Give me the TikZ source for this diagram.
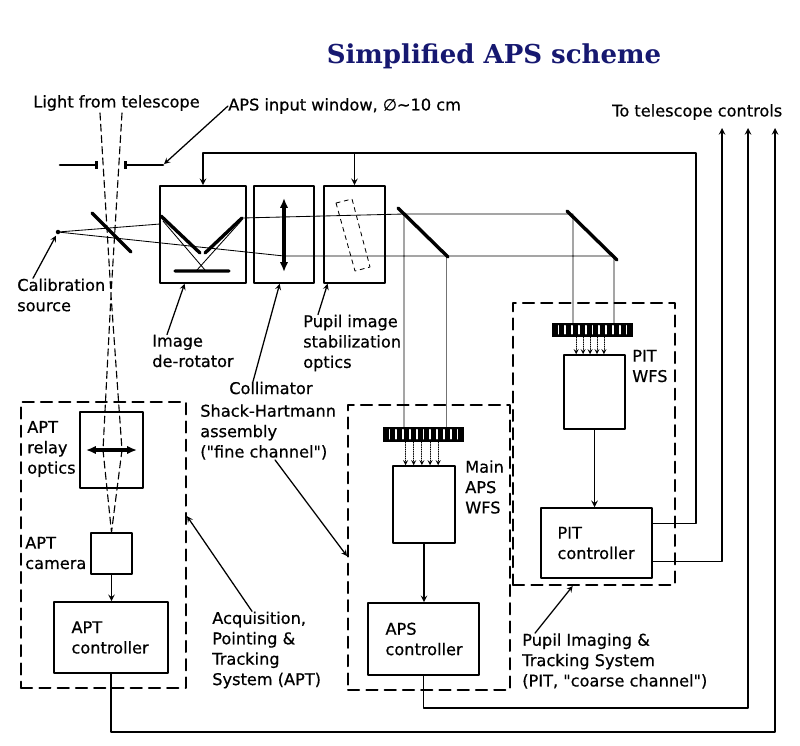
\documentclass[tikz,border=0pt]{standalone}
\usepackage{fontspec}
\setmainfont{DejaVu Sans}[FakeBold=0.6]
\newfontfamily\titlefont{DejaVu Serif}
\usetikzlibrary{arrows.meta,calc}
\definecolor{titleblue}{RGB}{22,24,112}
\begin{document}
\begin{tikzpicture}[x=0.025cm, y=-0.025cm, line cap=round, line join=round, font=\fontsize{11.5}{14.5}\selectfont, >=stealth]
	\tikzset{lbl/.style={anchor=west, align=left, inner sep=0pt},
		box/.style args={#1 by #2}{draw, line width=1.1pt, inner sep=0pt, minimum width=#1cm, minimum height=#2cm},
		grp/.style args={#1 by #2}{draw, line width=1.4pt, dash pattern=on 8pt off 5pt, inner sep=0pt, minimum width=#1cm, minimum height=#2cm},
		lenslet/.style args={#1 by #2}{fill=black, inner sep=0pt, minimum width=#1cm, minimum height=#2cm},
		mirror/.style={line width=2.4pt},
		ray/.style={line width=0.6pt},
		beam/.style={line width=0.8pt, dash pattern=on 5pt off 3pt},
		spot/.style={->, densely dotted, line width=0.6pt},
		ctl/.style={->, line width=1.1pt},
		ptr/.style={->, line width=0.9pt},
		lens/.style={{Latex[length=7pt,width=6pt]}-{Latex[length=7pt,width=6pt]}, line width=2.2pt}}
	\useasboundingbox (0,0) rectangle (800,745);
	% title and headings
	\node[font=\fontsize{18.5}{22}\titlefont\bfseries, text=titleblue] (title) at (494,56) {Simplified APS scheme};
	\node[lbl] (light) at (33,103) {Light from telescope};
	\node[lbl] (window) at (228,106) {APS input window, ∅\textasciitilde10 cm};
	\node[lbl] (tocontrols) at (612,112) {To telescope controls};
	% optics and detectors
	\node[box=2.15 by 2.425] (derot) at (203,234.5) {};
	\node[box=1.5 by 2.425] (collim) at (284,234.5) {};
	\node[box=1.525 by 2.425] (pupil) at (354.5,234.5) {};
	\node[box=1.575 by 1.9] (relay) at (111.5,450) {};
	\node[box=1.025 by 1.025] (cam) at (111.5,553.5) {};
	\node[box=1.55 by 1.925] (mwfs) at (424,504.5) {};
	\node[box=1.525 by 1.85] (pwfs) at (594.5,392) {};
	\node[lenslet=2.025 by 0.375] (mlens) at (423.5,434.5) {};
	\node[lenslet=2.025 by 0.35] (plens) at (592.5,330) {};
	\node[box=2.85 by 1.775] (aptctl) at (111,637.5) {};
	\node[box=2.775 by 1.8] (apsctl) at (423.5,639) {};
	\node[box=2.775 by 1.75] (pitctl) at (596.5,543) {};
	% subsystem frames
	\node[grp=4.125 by 7.15] (aptframe) at (103.5,545) {};
	\node[grp=4.05 by 7.125] (apsframe) at (429,547.5) {};
	\node[grp=4.05 by 7.05] (pitframe) at (594,444) {};
	% labels
	\node[lbl] (calib) at (17,295) {Calibration\\source};
	\node[lbl] (derotlbl) at (152,351) {Image\\de-rotator};
	\node[lbl] (collimlbl) at (229,388) {Collimator};
	\node[lbl] (pupillbl) at (303,343) {Pupil image\\stabilization\\optics};
	\node[lbl] (shack) at (200,432) {Shack-Hartmann\\assembly\\(\textquotedbl fine channel\textquotedbl)};
	\node[lbl] (relaylbl) at (27,449) {APT\\relay\\optics};
	\node[lbl] (camlbl) at (25,553) {APT\\camera};
	\node[lbl] (aptctllbl) at ([xshift=0.45cm]aptctl.west) {APT\\controller};
	\node[lbl] (apsctllbl) at ([xshift=0.45cm]apsctl.west) {APS\\controller};
	\node[lbl] (pitctllbl) at ([xshift=0.425cm]pitctl.west) {PIT\\controller};
	\node[lbl] (mwfslbl) at (465,487) {Main\\APS\\WFS};
	\node[lbl] (pwfslbl) at (632,366) {PIT\\WFS};
	\node[lbl] (aptsys) at (212,650) {Acquisition,\\Pointing \&\\Tracking\\System (APT)};
	\node[lbl] (pitsys) at (522,661) {Pupil Imaging \&\\Tracking System\\(PIT, \textquotedbl coarse channel\textquotedbl)};
	\path (58,232) coordinate (src)
	(60,165) coordinate (winL1) (98,165) coordinate (winL2)
	(124,165) coordinate (winR1) (163,165) coordinate (winR2)
	(92,213) coordinate (bs1) (131,252) coordinate (bs2)
	(398,208) coordinate (fm1a) (448,257) coordinate (fm1b)
	(567,211) coordinate (fm2a) (617,260) coordinate (fm2b)
	(404,214) coordinate (up1) (573,214) coordinate (up2)
	(446,256) coordinate (lo1) (614,256) coordinate (lo2)
	(111,295) coordinate (focus)
	(696,153) coordinate (ctlturn)
	(722,128) coordinate (tel1) (748,128) coordinate (tel2) (775,128) coordinate (tel3);
	% light paths
	\draw[beam] (100,113) -- (focus) -- (103,450) -- (cam.north)
	(122,113) -- (focus) -- (122,450) -- (cam.north);
	\draw[line width=1.8pt, -{Bar[width=5pt]}] (winL1) -- (winL2);
	\draw[line width=1.8pt, {Bar[width=5pt]}-] (winR1) -- (winR2);
	\draw[ray] (src) -- (160,224) (242,218) -- (up1) -- (up2)
	(src) -- (284,256) -- (lo1) -- (lo2)
	(163,221) -- (205,270) (241,221) -- (197,270)
	(up1) -- (up1 |- mlens.north) (up2) -- (up2 |- plens.north) (lo2) -- (lo2 |- plens.north);
	\draw[ray, black!55] (lo1) -- (lo1 |- mlens.north);
	\fill (src) circle (1.6pt);
	\draw[mirror] (bs1) -- (bs2) (fm1a) -- (fm1b) (fm2a) -- (fm2b)
	(161,216) -- (200,253) (205,253) -- (242,218) (175,271) -- (229,271);
	\draw[lens] (284,198) -- (284,272);
	\draw[lens] (86,450) -- (137,450);
	\draw[ray, dashed] (336,203) -- (352,199) -- (370,267) -- (355,271) -- cycle;
	\foreach \i in {1,...,11} {
		\draw[white, line width=1.3pt] ($(mlens.north west)!\i/12!(mlens.north east)+(0,3)$) -- ++(0,9);
		\draw[white, line width=1.3pt] ($(plens.north west)!\i/12!(plens.north east)+(0,3)$) -- ++(0,8);
	}
	\foreach \f in {0.28,0.38,0.48,0.58,0.68} \draw[spot] ($(mlens.south west)!\f!(mlens.south east)$) coordinate (s) -- (s |- mwfs.north);
	\foreach \f in {0.30,0.385,0.47,0.555,0.64} \draw[spot] ($(plens.south west)!\f!(plens.south east)$) coordinate (s) -- (s |- pwfs.north);
	% signals
	\draw[ctl] (cam.south) -- (cam.south |- aptctl.north);
	\draw[ctl] (mwfs.south) -- (mwfs.south |- apsctl.north);
	\draw[ctl] (pwfs.south) -- (pwfs.south |- pitctl.north);
	\draw[ctl] ($(pitctl.north east)!0.23!(pitctl.south east)$) -| (ctlturn) -| (derot.north);
	\draw[ctl] (pupil.north |- ctlturn) -- (pupil.north);
	\draw[ctl] ($(pitctl.north east)!0.76!(pitctl.south east)$) -| (tel1);
	\draw[ctl] (apsctl.south) -- ++(0,32) -| (tel2);
	\draw[ctl] (aptctl.south) -- ++(0,58) -| (tel3);
	% pointers
	\draw[ptr, shorten >=1pt] (window.west) -- (winR2);
	\draw[ptr, shorten >=3pt] ([xshift=0.4cm]calib.north west) -- (src);
	\draw[ptr] ([xshift=0.375cm]derotlbl.north west) -- ($(derot.south west)!0.29!(derot.south east)$);
	\draw[ptr] ([xshift=0.6cm]collimlbl.north west) -- ($(collim.south west)!0.43!(collim.south east)$);
	\draw[ptr] ([xshift=0.375cm]pupillbl.north west) -- ($(pupil.south west)!0.07!(pupil.south east)$);
	\draw[ptr] ([xshift=1.875cm]shack.south west) -- ($(apsframe.north west)!0.53!(apsframe.south west)$);
	\draw[ptr] ([xshift=1cm]aptsys.north west) -- ($(aptframe.north east)!0.4!(aptframe.south east)$);
	\draw[ptr] ([xshift=0.325cm]pitsys.north west) -- ($(pitframe.south west)!0.37!(pitframe.south east)$);
\end{tikzpicture}
\end{document}
